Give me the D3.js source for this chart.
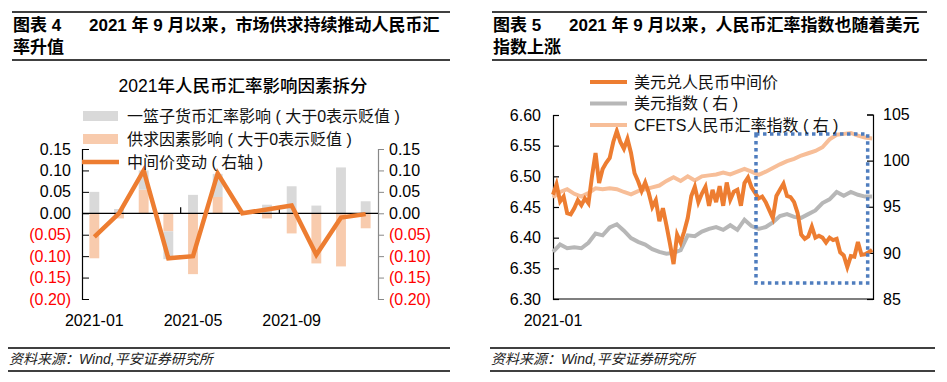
<!DOCTYPE html>
<html>
<head>
<meta charset="utf-8">
<script src="https://cdn.jsdelivr.net/npm/d3@7"></script>
<style>
  body { margin: 0; background: #fff; }
  svg { font-family: "Liberation Sans", Arial, "Noto Sans CJK SC", sans-serif; }
</style>
</head>
<body>
<svg id="chart" width="947" height="382"></svg>
<script>
// ---- left panel: 2021 monthly decomposition ----
var months = ["2021-01","2021-02","2021-03","2021-04","2021-05","2021-06","2021-07","2021-08","2021-09","2021-10","2021-11","2021-12"]
var basket = [0.05, 0.01, 0.045, -0.065, 0.043, 0.054, 0.002, 0.02, 0.063, 0.018, 0.107, 0.028]
var supply = [-0.105, -0.012, 0.055, -0.042, -0.142, 0.038, -0.002, -0.012, -0.047, -0.117, -0.124, -0.035]
var midChange = [-0.055, 0.0, 0.10, -0.105, -0.10, 0.093, 0.0, 0.009, 0.018, -0.097, -0.01, -0.002]
var leftTicks = [0.15, 0.10, 0.05, 0.00, -0.05, -0.10, -0.15, -0.20]
var monthLabels = ["2021-01", "2021-05", "2021-09"]

// ---- right panel: daily-ish series ----
// USD/CNY fixing, one reading every 4 days from 2021-01-04
var usdcny = [6.47, 6.487, 6.459, 6.467, 6.44, 6.438, 6.448, 6.461, 6.453, 6.464,
  6.456, 6.50, 6.538, 6.489, 6.512, 6.522, 6.53, 6.556, 6.574, 6.556,
  6.545, 6.561, 6.538, 6.505, 6.492, 6.476, 6.49, 6.473, 6.45, 6.461,
  6.427, 6.448, 6.42, 6.39, 6.357, 6.405, 6.392, 6.41, 6.432, 6.468,
  6.483, 6.458, 6.472, 6.483, 6.452, 6.478, 6.458, 6.484, 6.452, 6.49,
  6.462, 6.475, 6.478, 6.452, 6.489, 6.498, 6.482, 6.473, 6.464, 6.467,
  6.458, 6.445, 6.432, 6.468, 6.478, 6.488, 6.468, 6.466, 6.458, 6.44,
  6.405, 6.398, 6.402, 6.418, 6.40, 6.403, 6.40, 6.392, 6.40, 6.396,
  6.398, 6.376, 6.371, 6.352, 6.37, 6.369, 6.393, 6.372, 6.373, 6.376, 6.38]
// dollar index and CFETS index, one reading every 8 days
var dxy = [90.1, 90.9, 90.5, 90.6, 90.5, 91.1, 92.1, 91.9, 92.75, 93.1,
  92.4, 91.6, 91.2, 90.9, 90.4, 90.1, 89.9, 90.0, 90.3, 91.9,
  91.8, 92.3, 92.6, 92.8, 92.5, 93.0, 92.5, 93.6, 92.9, 92.6,
  92.8, 93.3, 94.0, 94.2, 93.9, 93.8, 94.2, 94.6, 95.4, 95.8,
  96.6, 96.2, 96.6, 96.3, 96.1, 96.1]
var cfets = [96.0, 96.6, 96.9, 96.4, 96.1, 96.5, 97.0, 96.9, 97.0, 96.9,
  96.6, 96.35, 96.7, 96.9, 97.1, 97.3, 97.8, 98.2, 97.8, 98.3,
  97.85, 98.3, 98.4, 98.5, 98.7, 98.5, 98.8, 99.1, 98.8, 98.45,
  98.8, 99.2, 99.6, 99.95, 100.2, 100.55, 100.8, 101.05, 101.45, 102.3,
  102.8, 102.9, 103.0, 102.7, 102.5, 102.4]
var highlight = { from: "2021-08-21", to: "2021-12-25", hi: 6.569, lo: 6.326 }

var orange = "#ED7D31", grayBar = "#D9D9D9", peachBar = "#F8CBAD"
var grayLine = "#B7B7B7", peachLine = "#F7BE98", red = "#FF0000"

var svg = d3.select("#chart")

// headers and footers
function header(x0, x1, label, line1, line2) {
  svg.append("line").attr("x1", x0).attr("x2", x1).attr("y1", 12).attr("y2", 12).attr("stroke", "#000").attr("stroke-width", 1.3)
  svg.append("line").attr("x1", x0).attr("x2", x1).attr("y1", 60).attr("y2", 60).attr("stroke", "#000").attr("stroke-width", 1.3)
  var t = svg.append("g").attr("font-size", 17).attr("font-weight", "bold").attr("fill", "#000")
  t.append("text").attr("x", x0 + 1).attr("y", 31).text(label)
  t.append("text").attr("x", x0 + 77).attr("y", 31).attr("xml:space", "preserve").text(line1)
  t.append("text").attr("x", x0 + 1).attr("y", 53).text(line2)
}
header(12, 450, "图表 4", "2021 年 9 月以来，市场供求持续推动人民币汇", "率升值")
header(492, 927, "图表 5", "2021 年 9 月以来，人民币汇率指数也随着美元", "指数上涨")

function footer(x0, x1) {
  svg.append("line").attr("x1", x0).attr("x2", x1).attr("y1", 348).attr("y2", 348).attr("stroke", "#000").attr("stroke-width", 1.3)
  svg.append("line").attr("x1", x0).attr("x2", x1).attr("y1", 371).attr("y2", 371).attr("stroke", "#000").attr("stroke-width", 1.3)
  svg.append("text").attr("x", x0 + 1).attr("y", 364).attr("font-size", 14).attr("font-style", "italic")
    .attr("fill", "#222").text("资料来源：Wind,平安证券研究所")
}
footer(8, 450)
footer(490, 935)

// ================= left chart =================
var xBand = d3.scaleBand().domain(months).range([82, 378]).paddingInner(0.6).paddingOuter(0.3)
var yL = d3.scaleLinear().domain([-0.20, 0.15]).range([299, 149])

svg.append("text").attr("x", 243).attr("y", 86).attr("text-anchor", "middle").attr("dominant-baseline", "central")
  .attr("font-size", 17.5).attr("font-weight", 500).attr("fill", "#000").text("2021年人民币汇率影响因素拆分")

var rows = months.map((m, i) => ({ month: m, supply: supply[i], basket: basket[i] }))
var stacked = d3.stack().keys(["supply", "basket"]).offset(d3.stackOffsetDiverging)(rows)
var barColor = { supply: peachBar, basket: grayBar }

svg.append("g").selectAll("g").data(stacked).enter().append("g")
  .attr("fill", d => barColor[d.key])
  .selectAll("rect").data(d => d).enter().append("rect")
  .attr("x", d => xBand(d.data.month))
  .attr("width", xBand.bandwidth())
  .attr("y", d => yL(Math.max(d[0], d[1])))
  .attr("height", d => Math.abs(yL(d[0]) - yL(d[1])))

var fmtL = v => v < 0 ? "(" + d3.format(".2f")(-v) + ")" : d3.format(".2f")(v)

var axL = svg.append("g").attr("transform", "translate(82,0)")
  .call(d3.axisLeft(yL).tickValues(leftTicks).tickSize(-7).tickPadding(11).tickFormat(fmtL))
var axR = svg.append("g").attr("transform", "translate(378,0)")
  .call(d3.axisRight(yL).tickValues(leftTicks).tickSize(6).tickPadding(5).tickFormat(fmtL))
axL.select(".domain").attr("stroke", "#000").attr("stroke-width", 1.2)
axR.select(".domain").attr("stroke", "#888").attr("stroke-width", 1.2)
axR.selectAll(".tick line").attr("stroke", "#888")
;[axL, axR].forEach(a => {
  a.selectAll(".tick text").attr("font-size", 16).attr("font-family", "Liberation Sans, Arial, sans-serif")
    .attr("fill", d => d < 0 ? red : "#000")
})

// zero line with category ticks
svg.append("line").attr("x1", 82).attr("x2", 378).attr("y1", yL(0)).attr("y2", yL(0)).attr("stroke", "#000").attr("stroke-width", 1.2)
var step = xBand.step()
svg.append("g").selectAll("line").data([4, 8]).enter().append("line")
  .attr("x1", k => 82 + k * step).attr("x2", k => 82 + k * step)
  .attr("y1", yL(0)).attr("y2", yL(0) - 6).attr("stroke", "#000").attr("stroke-width", 1.2)
svg.append("g").selectAll("text").data(monthLabels).enter().append("text")
  .attr("x", d => xBand(d) + xBand.bandwidth() / 2).attr("y", 326)
  .attr("text-anchor", "middle").attr("font-size", 16).attr("fill", "#000").text(d => d)

var midLine = d3.line().x((d, i) => xBand(months[i]) + xBand.bandwidth() / 2).y(d => yL(d))
svg.append("path").datum(midChange).attr("d", midLine).attr("fill", "none")
  .attr("stroke", orange).attr("stroke-width", 4.5).attr("stroke-linejoin", "miter")

// left legend
var legL = svg.append("g").attr("font-size", 16).attr("fill", "#111").attr("xml:space", "preserve")
legL.append("rect").attr("x", 83).attr("y", 111).attr("width", 35).attr("height", 10).attr("fill", grayBar)
legL.append("text").attr("x", 127).attr("y", 116).attr("dominant-baseline", "central").text("一篮子货币汇率影响 ( 大于0表示贬值 )")
legL.append("rect").attr("x", 83).attr("y", 134).attr("width", 35).attr("height", 10).attr("fill", peachBar)
legL.append("text").attr("x", 127).attr("y", 139).attr("dominant-baseline", "central").text("供求因素影响 ( 大于0表示贬值 )")
legL.append("line").attr("x1", 82).attr("x2", 119).attr("y1", 162).attr("y2", 162).attr("stroke", orange).attr("stroke-width", 4.5)
legL.append("text").attr("x", 127).attr("y", 162).attr("dominant-baseline", "central").text("中间价变动 ( 右轴 )")

// ================= right chart =================
var t0 = new Date(2021, 0, 4), t1 = new Date(2021, 11, 31)
var xT = d3.scaleTime().domain([t0, t1]).range([553, 873])
var yA = d3.scaleLinear().domain([6.30, 6.60]).range([299, 115])
var yB = d3.scaleLinear().domain([85, 105]).range([299, 114.5])

var usdDates = usdcny.map((v, i) => d3.timeDay.offset(t0, i * 4))
var idxDates = dxy.map((v, i) => d3.timeDay.offset(t0, i * 8))

var gA = svg.append("g").attr("transform", "translate(553,0)")
  .call(d3.axisLeft(yA).ticks(6).tickSize(-6).tickPadding(12).tickFormat(d3.format(".2f")))
var gB = svg.append("g").attr("transform", "translate(873,0)")
  .call(d3.axisRight(yB).tickValues([85, 90, 95, 100, 105]).tickSize(-6).tickPadding(10))
;[gA, gB].forEach(a => {
  a.select(".domain").attr("stroke", "#000").attr("stroke-width", 1.2)
  a.selectAll(".tick line").attr("stroke", "#000").attr("stroke-width", 1.2)
  a.selectAll(".tick text").attr("font-size", 16).attr("fill", "#000")
})
svg.append("line").attr("x1", 553).attr("x2", 873).attr("y1", 299).attr("y2", 299).attr("stroke", "#000").attr("stroke-width", 1.2)
svg.append("text").attr("x", xT(t0)).attr("y", 326).attr("text-anchor", "middle").attr("font-size", 16).attr("fill", "#000").text("2021-01")

var lineUsd = d3.line().x((d, i) => xT(usdDates[i])).y(d => yA(d))
var lineIdx = d3.line().x((d, i) => xT(idxDates[i])).y(d => yB(d))

svg.append("path").datum(cfets).attr("d", lineIdx).attr("fill", "none").attr("stroke", peachLine).attr("stroke-width", 4)
svg.append("path").datum(dxy).attr("d", lineIdx).attr("fill", "none").attr("stroke", grayLine).attr("stroke-width", 4)
svg.append("path").datum(usdcny).attr("d", lineUsd).attr("fill", "none").attr("stroke", orange).attr("stroke-width", 4)

// highlight box
var pd = d3.timeParse("%Y-%m-%d")
svg.append("rect")
  .attr("x", xT(pd(highlight.from))).attr("y", yA(highlight.hi))
  .attr("width", xT(pd(highlight.to)) - xT(pd(highlight.from)))
  .attr("height", yA(highlight.lo) - yA(highlight.hi))
  .attr("fill", "none").attr("stroke", "#4F7DBE").attr("stroke-width", 3.5).attr("stroke-dasharray", "3.5,3.5")

// right legend
var legR = svg.append("g").attr("font-size", 16).attr("fill", "#111").attr("xml:space", "preserve")
var legItems = [["美元兑人民币中间价", orange], ["美元指数 ( 右 )", grayLine], ["CFETS人民币汇率指数 ( 右 )", peachLine]]
legItems.forEach((it, i) => {
  var y = 82 + i * 21.5
  legR.append("line").attr("x1", 590).attr("x2", 627).attr("y1", y).attr("y2", y).attr("stroke", it[1]).attr("stroke-width", 4)
  legR.append("text").attr("x", 634).attr("y", y).attr("dominant-baseline", "central").text(it[0])
})
</script>
</body>
</html>
